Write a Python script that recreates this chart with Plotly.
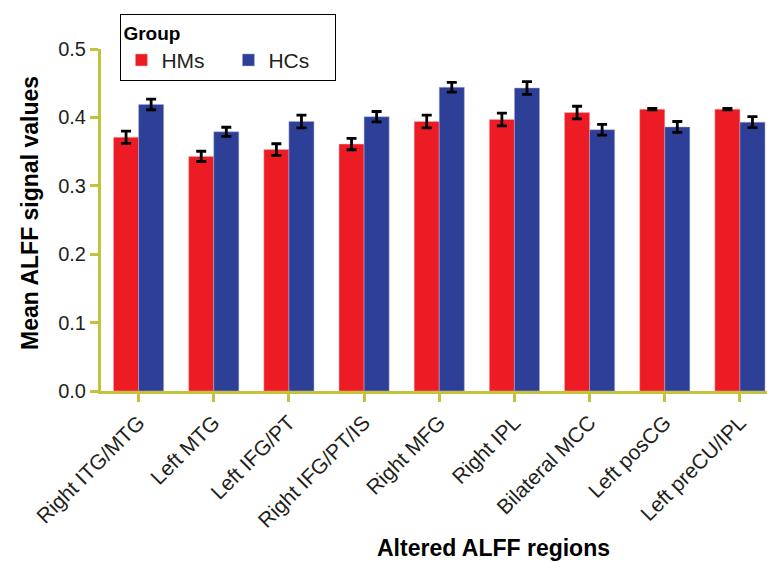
import plotly.graph_objects as go

regions = ["Right ITG/MTG", "Left MTG", "Left IFG/PT", "Right IFG/PT/IS", "Right MFG",
           "Right IPL", "Bilateral MCC", "Left posCG", "Left preCU/IPL"]
hms_mean = [0.371, 0.343, 0.353, 0.361, 0.394, 0.397, 0.407, 0.412, 0.412]
hms_err = [0.009, 0.0075, 0.0085, 0.0083, 0.0093, 0.0093, 0.0093, 0.001, 0.001]
hcs_mean = [0.419, 0.379, 0.394, 0.401, 0.444, 0.443, 0.382, 0.386, 0.393]
hcs_err = [0.0078, 0.0066, 0.0093, 0.0076, 0.0071, 0.0093, 0.0078, 0.008, 0.008]
y_ticks = [0.0, 0.1, 0.2, 0.3, 0.4, 0.5]

RED = "#ED1C24"
BLUE = "#2E3F98"
AXIS = "#C3C23A"
FONT = "Liberation Sans, Arial, sans-serif"

fig = go.Figure()
fig.add_trace(go.Bar(
    x=regions, y=hms_mean, name="HMs", marker_color=RED,
    marker_line=dict(color="#f3b0b3", width=0.5),
    error_y=dict(type="data", array=hms_err, color="black", thickness=2.8, width=5),
))
fig.add_trace(go.Bar(
    x=regions, y=hcs_mean, name="HCs", marker_color=BLUE,
    marker_line=dict(color="#a9b0d6", width=0.5),
    error_y=dict(type="data", array=hcs_err, color="black", thickness=2.8, width=5),
))

fig.update_layout(
    width=767, height=563,
    margin=dict(l=101, r=0, t=49, b=172, autoexpand=False),
    paper_bgcolor="white", plot_bgcolor="white",
    barmode="group", bargap=0.333, bargroupgap=0,
    font=dict(family=FONT, size=18, color="#231F20"),
    showlegend=True,
    legend=dict(
        title=dict(text="<b>Group</b>", side="top", font=dict(size=19, color="black")),
        orientation="h", xref="container", yref="container",
        x=0.157, y=0.975, xanchor="left", yanchor="top",
        bordercolor="black", borderwidth=1, bgcolor="white",
        font=dict(size=21, color="#231F20"), itemwidth=30,
        entrywidth=62, entrywidthmode="pixels",
    ),
    xaxis=dict(
        range=[-0.5, 8.36], showline=True, linecolor=AXIS, linewidth=3,
        ticks="outside", tickcolor=AXIS, tickwidth=3, ticklen=8,
        tickangle=-45, tickfont=dict(size=21, family=FONT),
        showgrid=False, zeroline=False, automargin=False,
    ),
    yaxis=dict(
        range=[0, 0.5], tickvals=y_ticks, tickformat=".1f",
        showline=True, linecolor=AXIS, linewidth=3,
        ticks="outside", tickcolor=AXIS, tickwidth=3, ticklen=8,
        tickfont=dict(size=20, family=FONT),
        showgrid=False, zeroline=False, automargin=False,
    ),
    annotations=[
        dict(text="<b>Altered ALFF regions</b>", xref="paper", yref="paper",
             x=0.59, y=-0.459, xanchor="center", yanchor="middle", showarrow=False,
             font=dict(size=23, family=FONT, color="black")),
        dict(text="<b>Mean ALFF signal values</b>", xref="paper", yref="paper",
             x=-0.107, y=0.52, xanchor="center", yanchor="middle", showarrow=False,
             textangle=-90, font=dict(size=23, family=FONT, color="black")),
    ],
)

fig.write_html("out.html", config={"displayModeBar": False},
               post_script="document.body.style.margin='0';")
